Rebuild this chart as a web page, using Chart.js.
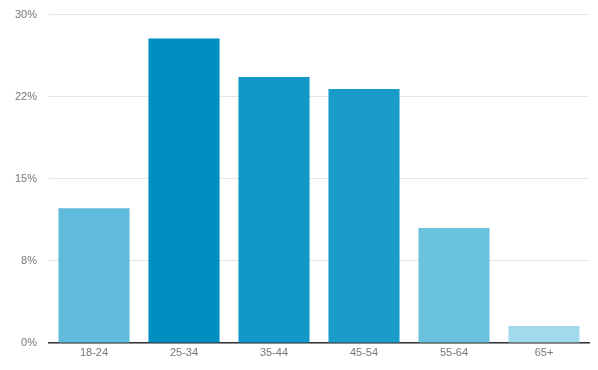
<!DOCTYPE html>
<html>
<head>
<meta charset="utf-8">
<script src="https://cdn.jsdelivr.net/npm/chart.js@4.4.1/dist/chart.umd.min.js"></script>
<style>
  html, body { margin: 0; padding: 0; background: #fff; }
  #wrap { width: 598px; height: 370px; }
</style>
</head>
<body>
<div id="wrap"><canvas id="ageChart" width="598" height="370"></canvas></div>
<script>
// age groups and share of users (%)
const ageGroups = ['18-24', '25-34', '35-44', '45-54', '55-64', '65+'];
const shares = [12.3, 27.8, 24.3, 23.2, 10.5, 1.55];
const barColors = ['#5fbadb', '#008ec1', '#1198c8', '#199cca', '#6ac2dd', '#a0daec'];
const yTickLabels = ['0%', '8%', '15%', '22%', '30%'];

const ctx = document.getElementById('ageChart').getContext('2d');
new Chart(ctx, {
    type: 'bar',
    data: {
        labels: ageGroups,
        datasets: [{
            data: shares,
            backgroundColor: barColors,
            borderWidth: 0,
            barPercentage: 0.79,
            categoryPercentage: 1.0
        }]
    },
    options: {
        responsive: false,
        animation: false,
        layout: {
            padding: { left: 0, right: 9, top: 14.5, bottom: 0 }
        },
        plugins: {
            legend: { display: false },
            tooltip: { enabled: false }
        },
        scales: {
            x: {
                grid: { display: false, drawTicks: false },
                border: { display: true, color: '#333', width: 1.5 },
                afterFit: scale => { scale.height = 27; },
                ticks: {
                    color: '#777',
                    font: { family: 'Liberation Sans, Arial, sans-serif', size: 11 },
                    padding: 3
                }
            },
            y: {
                min: 0,
                max: 30,
                afterFit: scale => {
                    scale.width = 49;
                    scale.paddingTop = 0;
                    scale.paddingBottom = 0;
                },
                grid: { color: '#e6e6e6', drawTicks: false },
                border: { display: false },
                ticks: {
                    stepSize: 7.5,
                    padding: 12,
                    color: '#777',
                    font: { family: 'Liberation Sans, Arial, sans-serif', size: 11 },
                    callback: (value, index) => yTickLabels[index]
                }
            }
        }
    }
});
</script>
</body>
</html>
